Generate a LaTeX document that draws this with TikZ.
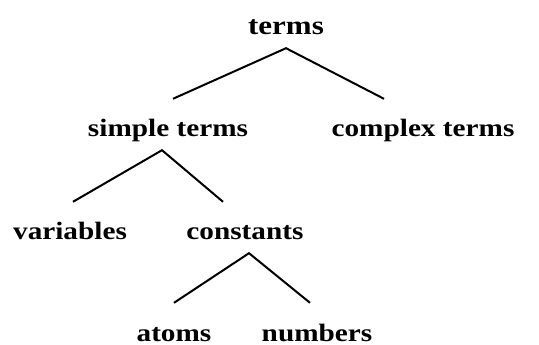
\documentclass[tikz,border=0pt]{standalone}
\usepackage{fontspec}
\setmainfont{Liberation Serif}[FakeStretch=1.17]
\usepackage{tikz}
\usetikzlibrary{positioning}
\tikzset{
  term/.style={anchor=base,inner xsep=0pt,inner ysep=13pt,text height=25pt,text depth=0pt,
    font=\fontsize{25}{30}\selectfont\bfseries},
  leaf/.style={term,inner ysep=2pt,text height=36pt},
  branch/.style={draw=black,line width=2pt},
}

\begin{document}
\begin{tikzpicture}[x=1pt,y=-1pt]
\useasboundingbox (0,0) rectangle (539,345);
\node[term,font=\fontsize{26.5}{30}\selectfont\bfseries] (terms) at (286,35) {terms};
\node[term] (simple) at (168,137) {simple terms};
\node[term] (complex) at (423,137) {complex terms};
\node[term] (variables) at (70,240) {variables};
\node[term] (constants) at (245,240) {constants};
\node[leaf] (atoms) at (174,341) {atoms};
\node[leaf] (numbers) at (317,341) {numbers};
\draw[branch] ([xshift=5pt]simple.north) -- (terms.south) -- ([xshift=-39pt]complex.north);
\draw[branch] ([xshift=3pt]variables.north) -- ([xshift=-6pt]simple.south) -- ([xshift=-22pt]constants.north);
\draw[branch] (atoms.north) -- ([xshift=4pt]constants.south) -- ([xshift=-7pt]numbers.north);
\end{tikzpicture}
\end{document}
